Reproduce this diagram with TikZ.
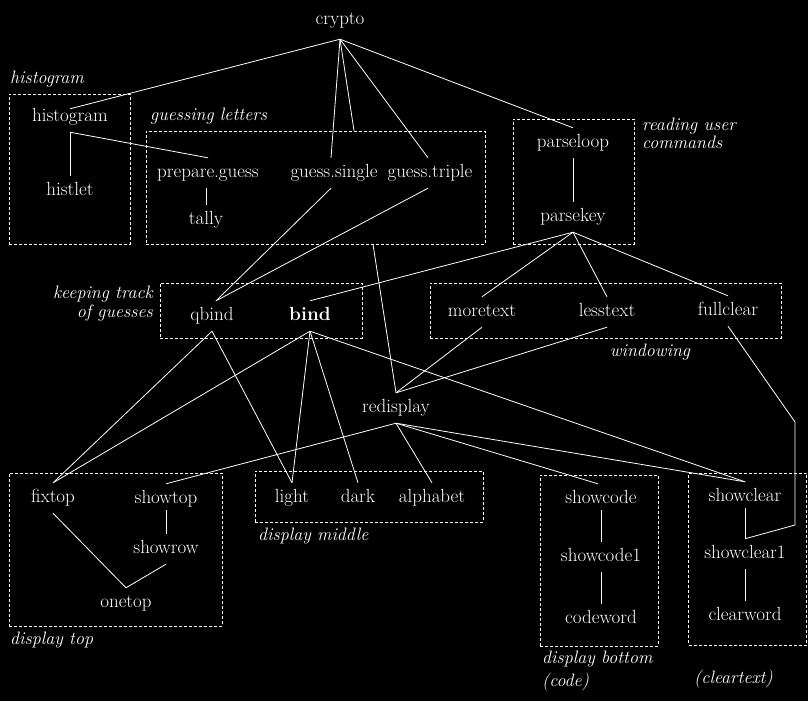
\documentclass[tikz,border=0pt]{standalone}
\begin{document}
\begin{tikzpicture}[x=1pt,y=-1pt,
  nd/.style={text=white, inner sep=0pt, text height=12pt, text depth=4pt, minimum height=30pt, font=\fontsize{19}{22}\selectfont},
  lab/.style={text=white, inner sep=0pt, text height=11.5pt, text depth=3.5pt, font=\fontsize{18}{21}\selectfont\itshape},
  grp/.style={draw=white, dash pattern=on 3pt off 2pt, line width=0.8pt, inner sep=0pt},
  link/.style={draw=white, line width=0.8pt}]
\fill[black] (0,0) rectangle (808,701);
\useasboundingbox (0,0) rectangle (808,701);

% group boxes
\node[grp, minimum width=121pt, minimum height=150pt] (histbox) at (69.5,169) {};
\node[grp, minimum width=339pt, minimum height=113pt] (guessbox) at (315.5,187.5) {};
\node[grp, minimum width=121pt, minimum height=125pt] (parsebox) at (573.5,181.5) {};
\node[grp, minimum width=202pt, minimum height=55pt] (keepbox) at (261,310.5) {};
\node[grp, minimum width=351pt, minimum height=55pt] (winbox) at (605.5,310.5) {};
\node[grp, minimum width=213pt, minimum height=153pt] (topbox) at (115.5,549.5) {};
\node[grp, minimum width=228pt, minimum height=51pt] (midbox) at (369,496.5) {};
\node[grp, minimum width=118pt, minimum height=171pt] (botbox) at (599,560.5) {};
\node[grp, minimum width=118pt, minimum height=172pt] (clearbox) at (747.5,559) {};

% group labels
\node[lab, anchor=west] (lhist) at (10,79) {histogram};
\node[lab, anchor=west] (lguess) at (150,116) {guessing letters};
\node[lab, anchor=west] (lread1) at (642,126) {reading user};
\node[lab, anchor=west] (lread2) at (642,144) {commands};
\node[lab, anchor=east] (lkeep1) at (153,294) {keeping track};
\node[lab, anchor=east] (lkeep2) at (153,313) {of guesses};
\node[lab] (lwin) at (650,352) {windowing};
\node[lab, anchor=west] (ltop) at (10,640) {display top};
\node[lab, anchor=west] (lmid) at (258,536) {display middle};
\node[lab, anchor=west] (lbot1) at (542,659) {display bottom};
\node[lab, anchor=west] (lbot2) at (542,682) {(code)};
\node[lab, anchor=west] (lclear) at (694,679) {(cleartext)};

% nodes
\node[nd] (crypto) at (340,21) {crypto};
\node[nd] (histogram) at (70,117) {histogram};
\node[nd] (histlet) at (70,191) {histlet};
\node[nd] (prepare) at (208,173) {prepare.guess};
\node[nd] (tally) at (206,220) {tally};
\node[nd] (gsingle) at (334,173) {guess.single};
\node[nd] (gtriple) at (430,173) {guess.triple};
\node[nd] (parseloop) at (573,143) {parseloop};
\node[nd] (parsekey) at (573,217) {parsekey};
\node[nd] (qbind) at (212,316) {qbind};
\node[nd, font=\fontsize{19}{22}\selectfont\bfseries] (bind) at (310,316) {bind};
\node[nd] (moretext) at (482,312) {moretext};
\node[nd] (lesstext) at (607,312) {lesstext};
\node[nd] (fullclear) at (728,311) {fullclear};
\node[nd] (redisplay) at (396,408) {redisplay};
\node[nd] (fixtop) at (53,498) {fixtop};
\node[nd] (showtop) at (166,499) {showtop};
\node[nd] (showrow) at (166,549) {showrow};
\node[nd] (onetop) at (126,603) {onetop};
\node[nd] (light) at (292,498) {light};
\node[nd] (dark) at (358,498) {dark};
\node[nd] (alphabet) at (432,498) {alphabet};
\node[nd] (showcode) at (601,499) {showcode};
\node[nd] (showcodeone) at (601,557) {showcode1};
\node[nd] (codeword) at (601,619) {codeword};
\node[nd] (showclear) at (745,497) {showclear};
\node[nd] (showclearone) at (745,554) {showclear1};
\node[nd] (clearword) at (745,616) {clearword};

\coordinate (fcA) at (795,422);
\coordinate (fcB) at (795,525);

% connectors
\draw[link] ([yshift=-3pt]crypto.south) -- ([yshift=-7pt]histogram.north);
\draw[link] ([yshift=-3pt]crypto.south) -- ([xshift=38.5pt]guessbox.north);
\draw[link] ([yshift=-3pt]crypto.south) -- ([xshift=-3pt]gsingle.north);
\draw[link] ([yshift=-3pt]crypto.south) -- ([xshift=-2pt]gtriple.north);
\draw[link] ([yshift=-3pt]crypto.south) -- (parseloop.north);
\draw[link] (histogram.south) -- (histlet.north);
\draw[link] (histogram.south) -- (prepare.north);
\draw[link] (tally.north |- prepare.south) -- (tally.north);
\draw[link] ([xshift=-3pt]gsingle.south) -- ([xshift=4pt]qbind.north);
\draw[link] ([xshift=-2pt]gtriple.south) -- ([xshift=4pt]qbind.north);
\draw[link] ([xshift=57.5pt]guessbox.south) -- (redisplay.north);
\draw[link] (parseloop.south) -- (parsekey.north);
\draw[link] (parsekey.south) -- (bind.north);
\draw[link] (parsekey.south) -- (moretext.north);
\draw[link] (parsekey.south) -- (lesstext.north);
\draw[link] (parsekey.south) -- (fullclear.north);
\draw[link] (moretext.south) -- (redisplay.north);
\draw[link] (lesstext.south) -- (redisplay.north);
\draw[link] (fullclear.south) -- (fcA) -- (fcB) -- (showclearone.north);
\draw[link] (qbind.south) -- (fixtop.north);
\draw[link] (qbind.south) -- (light.north);
\draw[link] (bind.south) -- (fixtop.north);
\draw[link] (bind.south) -- (light.north);
\draw[link] (bind.south) -- (dark.north);
\draw[link] (bind.south) -- (showclear.north);
\draw[link] (redisplay.south) -- (showtop.north);
\draw[link] (redisplay.south) -- (alphabet.north);
\draw[link] (redisplay.south) -- ([xshift=-3pt]showcode.north);
\draw[link] (redisplay.south) -- (showclear.north);
\draw[link] (fixtop.south) -- (onetop.north);
\draw[link] ([yshift=4pt]showtop.south) -- (showrow.north);
\draw[link] (showrow.south) -- (onetop.north);
\draw[link] ([yshift=4pt]showcode.south) -- (showcodeone.north);
\draw[link] (showcodeone.south) -- (codeword.north);
\draw[link] ([yshift=4pt]showclear.south) -- (showclearone.north);
\draw[link] (showclearone.south) -- (clearword.north);
\end{tikzpicture}
\end{document}
